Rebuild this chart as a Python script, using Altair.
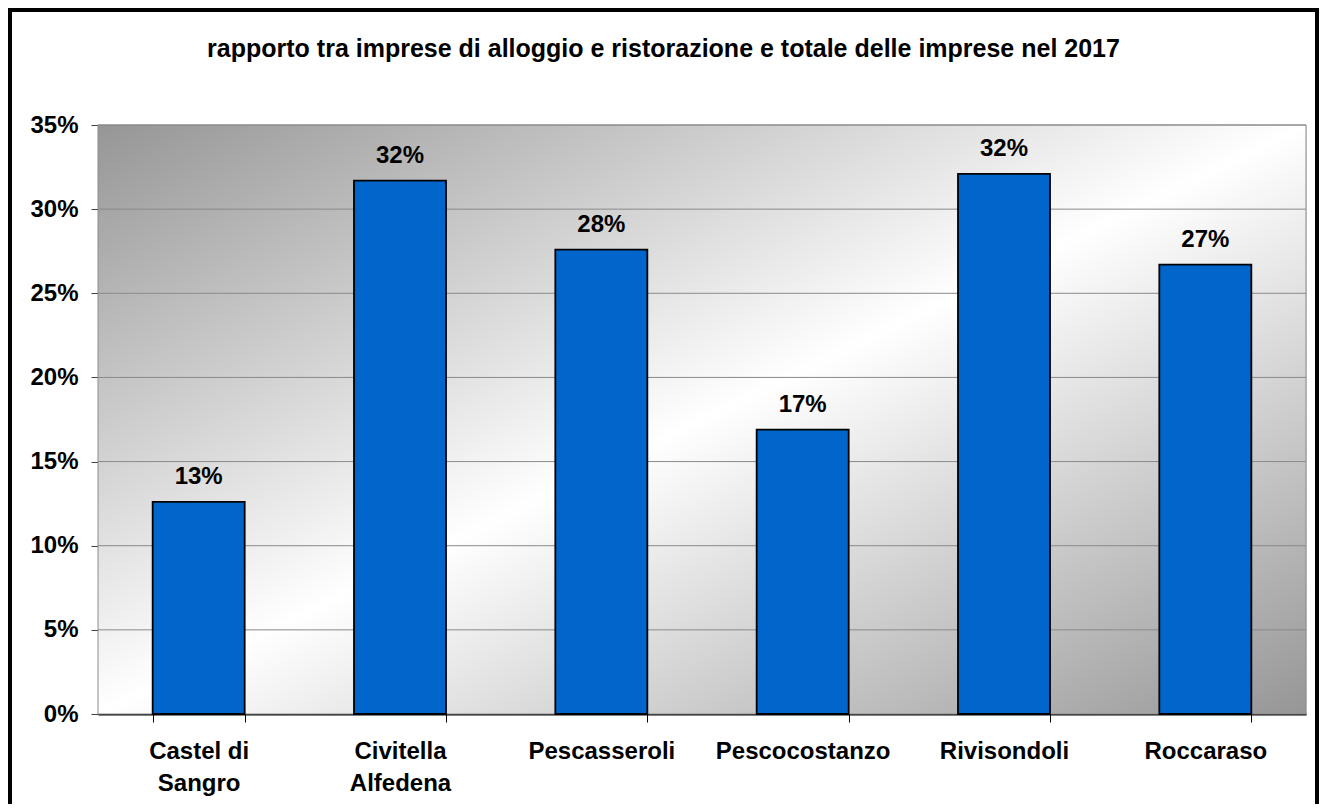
import altair as alt
import pandas as pd

categories = ["Castel di Sangro", "Civitella Alfedena", "Pescasseroli",
              "Pescocostanzo", "Rivisondoli", "Roccaraso"]
values = [0.126, 0.317, 0.276, 0.169, 0.321, 0.267]
y_ticks = [0.0, 0.05, 0.10, 0.15, 0.20, 0.25, 0.30, 0.35]
title_text = "rapporto tra imprese di alloggio e ristorazione e totale delle imprese nel 2017"

df = pd.DataFrame({"comune": categories, "quota": values})
grid_df = pd.DataFrame({"quota": y_ticks[1:]})
one = pd.DataFrame({"k": [0]})

W, H = 1208, 589
FONT = "Liberation Sans"

x_axis = alt.Axis(
    labelAngle=0, labelFont=FONT, labelFontSize=24, labelFontWeight="bold",
    labelColor="black",
    labelExpr="indexof(datum.label, ' ') > 0 ? [substring(datum.label, 0, lastindexof(datum.label, ' ')), substring(datum.label, lastindexof(datum.label, ' ') + 1)] : datum.label",
    labelLineHeight=32, labelPadding=17, labelBaseline="top",
    tickBand="extent", tickSize=8, tickColor="black", tickWidth=1,
    domainColor="black", domainWidth=2, grid=False,
)
x_enc = alt.X("comune:N", sort=categories, title=None,
              scale=alt.Scale(paddingInner=0.543, paddingOuter=0.2715),
              axis=x_axis)

y_scale = alt.Scale(domain=[0, 0.35], nice=False, zero=True)
y_axis = alt.Axis(values=y_ticks, format=".0%", labelFont=FONT, labelFontSize=24,
                  labelFontWeight="bold", labelColor="black", labelPadding=13,
                  tickSize=7, tickColor="#404040", domainColor="#404040",
                  domainWidth=1, grid=False)
y_enc = alt.Y("quota:Q", scale=y_scale, title=None, axis=y_axis)

gradient = alt.LinearGradient(
    gradient="linear", x1=0, y1=0, x2=1, y2=1,
    stops=[alt.GradientStop(offset=0, color="#969696"),
           alt.GradientStop(offset=0.5, color="#ffffff"),
           alt.GradientStop(offset=1, color="#969696")],
)

bg = alt.Chart(one).mark_rect(fill=gradient, stroke="#8c8c8c", strokeWidth=1).encode(
    x=alt.value(0), x2=alt.value("width"), y=alt.value(0), y2=alt.value("height")
)

grid = alt.Chart(grid_df).mark_rule(color="#8a8a8a", strokeWidth=1).encode(y=y_enc)

bars = alt.Chart(df).mark_bar(color="#0066CC", stroke="black", strokeWidth=1.8).encode(
    x=x_enc, y=y_enc
)

labels = alt.Chart(df).mark_text(
    dy=-18, baseline="alphabetic", font=FONT, fontSize=24, fontWeight="bold", color="black"
).encode(x=x_enc, y=y_enc, text=alt.Text("quota:Q", format=".0%"))

# outer chart frame (runs past the bottom edge, as in the original)
frame = alt.Chart(one).mark_rect(fillOpacity=0, stroke="black", strokeWidth=4).encode(
    x=alt.value(-88), x2=alt.value(W + 11), y=alt.value(-115), y2=alt.value(H + 120)
)

chart = alt.layer(bg, grid, bars, labels, frame).properties(
    width=W, height=H,
    autosize=alt.AutoSizeParams(type="none"),
    padding={"left": 90, "top": 117, "right": 13, "bottom": 90},
    title=alt.TitleParams(title_text, font=FONT, fontSize=25, fontWeight="bold",
                          color="black", anchor="middle", frame="bounds", offset=-54),
).configure_view(stroke=None).configure(background="white")

chart.save("out.html", embed_options={"renderer": "svg", "actions": False})
